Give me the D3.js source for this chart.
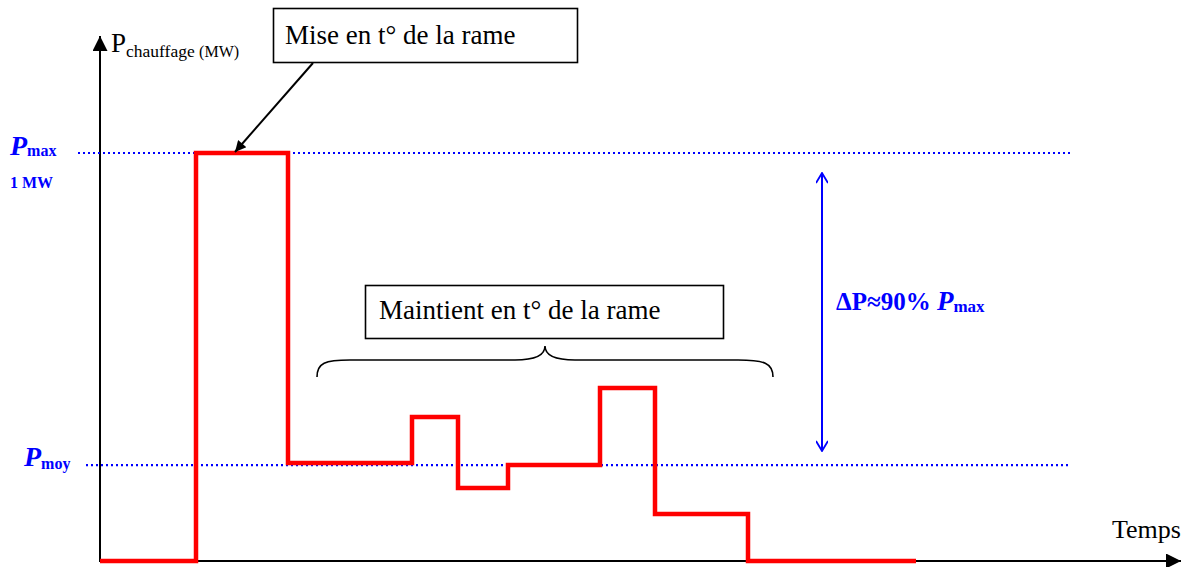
<!DOCTYPE html>
<html>
<head>
<meta charset="utf-8">
<script src="https://cdn.jsdelivr.net/npm/d3@7"></script>
<style>
  body { margin: 0; background: #fff; }
</style>
</head>
<body>
<div id="chart"></div>
<script>
// heating power profile (MW) over time (arbitrary units), step changes
var times = [0, 0.96, 1.88, 3.12, 3.58, 4.08, 5.00, 5.55, 6.48, 8.16];
var power = [0, 1, 0.24, 0.353, 0.179, 0.235, 0.424, 0.115, 0, 0];

var pMax = 1,
    pMoy = 0.235;

var width = 1192,
    height = 567;

var x = d3.scaleLinear().domain([0, 10.8]).range([100, 1180]);
var y = d3.scaleLinear().domain([0, 1]).range([561, 153]);

var svg = d3.select("#chart").append("svg")
    .attr("width", width)
    .attr("height", height)
    .attr("font-family", "'Liberation Serif', 'Times New Roman', serif");

var defs = svg.append("defs");
defs.append("marker")
    .attr("id", "tri")
    .attr("viewBox", "0 0 10 10")
    .attr("refX", 10).attr("refY", 5)
    .attr("markerWidth", 7.5).attr("markerHeight", 7.5)
    .attr("markerUnits", "strokeWidth")
    .attr("orient", "auto")
  .append("path")
    .attr("d", "M0,0L10,5L0,10Z")
    .attr("fill", "#000");

defs.append("marker")
    .attr("id", "tri2")
    .attr("viewBox", "0 0 10 10")
    .attr("refX", 10).attr("refY", 5)
    .attr("markerWidth", 13).attr("markerHeight", 11)
    .attr("markerUnits", "userSpaceOnUse")
    .attr("orient", "auto")
  .append("path")
    .attr("d", "M0,0L10,5L0,10Z")
    .attr("fill", "#000");

defs.append("marker")
    .attr("id", "vee")
    .attr("viewBox", "0 0 12 12")
    .attr("refX", 11).attr("refY", 6)
    .attr("markerWidth", 12).attr("markerHeight", 12)
    .attr("markerUnits", "userSpaceOnUse")
    .attr("orient", "auto-start-reverse")
  .append("path")
    .attr("d", "M1,0L11,6L1,12")
    .attr("fill", "none")
    .attr("stroke", "#0000ff")
    .attr("stroke-width", 1.8);

// axes
svg.append("line")
    .attr("x1", x(0)).attr("y1", y(0) + 1)
    .attr("x2", x(0)).attr("y2", 36)
    .attr("stroke", "#000").attr("stroke-width", 2)
    .attr("marker-end", "url(#tri)");
svg.append("line")
    .attr("x1", x(0) - 1).attr("y1", y(0))
    .attr("x2", x(10.8) + 1).attr("y2", y(0))
    .attr("stroke", "#000").attr("stroke-width", 2)
    .attr("marker-end", "url(#tri)");

// reference levels
svg.append("line")
    .attr("x1", 78).attr("x2", 1070)
    .attr("y1", y(pMax)).attr("y2", y(pMax))
    .attr("stroke", "#0000ff").attr("stroke-width", 2.2)
    .attr("stroke-dasharray", "2,3");
svg.append("line")
    .attr("x1", 86).attr("x2", 1070)
    .attr("y1", y(pMoy)).attr("y2", y(pMoy))
    .attr("stroke", "#0000ff").attr("stroke-width", 2.2)
    .attr("stroke-dasharray", "2,3");

// power curve
var line = d3.line()
    .x(function(d, i) { return x(times[i]); })
    .y(function(d) { return y(d); })
    .curve(d3.curveStepAfter);

svg.append("path")
    .datum(power)
    .attr("d", line)
    .attr("fill", "none")
    .attr("stroke", "#ff0000")
    .attr("stroke-width", 4.5)
    .attr("stroke-linejoin", "miter");

// level labels
var lab = svg.append("text")
    .attr("x", 10).attr("y", 155)
    .attr("fill", "#0000ff").attr("font-weight", "bold");
lab.append("tspan").attr("font-size", 28).attr("font-style", "italic").text("P");
lab.append("tspan").attr("font-size", 16).attr("dy", 1).text("max");

svg.append("text")
    .attr("x", 10).attr("y", 188)
    .attr("fill", "#0000ff").attr("font-weight", "bold")
    .attr("font-size", 16)
    .text("1 MW");

var lab2 = svg.append("text")
    .attr("x", 24).attr("y", 466)
    .attr("fill", "#0000ff").attr("font-weight", "bold");
lab2.append("tspan").attr("font-size", 28).attr("font-style", "italic").text("P");
lab2.append("tspan").attr("font-size", 16).attr("dy", 3).text("moy");

// y axis title
var yt = svg.append("text")
    .attr("x", 111).attr("y", 52)
    .attr("fill", "#000");
yt.append("tspan").attr("font-size", 27).text("P");
yt.append("tspan").attr("font-size", 17.5).attr("dy", 5).text("chauffage ");
yt.append("tspan").attr("font-size", 16).text("(MW)");

// x axis title
svg.append("text")
    .attr("x", 1112).attr("y", 538)
    .attr("font-size", 26)
    .text("Temps");

// callout: heating-up
svg.append("rect")
    .attr("x", 273.5).attr("y", 8.5)
    .attr("width", 304).attr("height", 54)
    .attr("fill", "#fff").attr("stroke", "#000").attr("stroke-width", 1.6);
svg.append("text")
    .attr("x", 285).attr("y", 44)
    .attr("font-size", 27)
    .text("Mise en t\u00b0 de la rame");
svg.append("line")
    .attr("x1", 313).attr("y1", 63)
    .attr("x2", x((times[1] + times[2]) / 2) - 7).attr("y2", y(pMax) - 1)
    .attr("stroke", "#000").attr("stroke-width", 2)
    .attr("marker-end", "url(#tri2)");

// callout: maintaining
svg.append("rect")
    .attr("x", 365.5).attr("y", 285.5)
    .attr("width", 358).attr("height", 53)
    .attr("fill", "#fff").attr("stroke", "#000").attr("stroke-width", 1.6);
svg.append("text")
    .attr("x", 379).attr("y", 319)
    .attr("font-size", 27)
    .text("Maintient en t\u00b0 de la rame");

// brace
var bx0 = 317, bx1 = 773, bm = 545;
svg.append("path")
    .attr("d", "M" + bx0 + ",377 C" + bx0 + ",363 325,360 350,360" +
               " L" + (bm - 30) + ",360 C" + (bm - 8) + ",360 " + bm + ",355 " + bm + ",346" +
               " C" + bm + ",355 " + (bm + 8) + ",360 " + (bm + 30) + ",360" +
               " L" + (bx1 - 35) + ",360 C" + (bx1 - 9) + ",360 " + bx1 + ",363 " + bx1 + ",377")
    .attr("fill", "none").attr("stroke", "#000").attr("stroke-width", 1.6);

// delta arrow
svg.append("line")
    .attr("x1", 822).attr("x2", 822)
    .attr("y1", 173).attr("y2", 451)
    .attr("stroke", "#0000ff").attr("stroke-width", 2)
    .attr("marker-start", "url(#vee)")
    .attr("marker-end", "url(#vee)");

var dl = svg.append("text")
    .attr("x", 836).attr("y", 310)
    .attr("fill", "#0000ff").attr("font-weight", "bold");
dl.append("tspan").attr("font-size", 25).text("\u0394P\u224890% ");
dl.append("tspan").attr("font-size", 27).attr("font-style", "italic").text("P");
dl.append("tspan").attr("font-size", 17).attr("dy", 2).text("max");
</script>
</body>
</html>
